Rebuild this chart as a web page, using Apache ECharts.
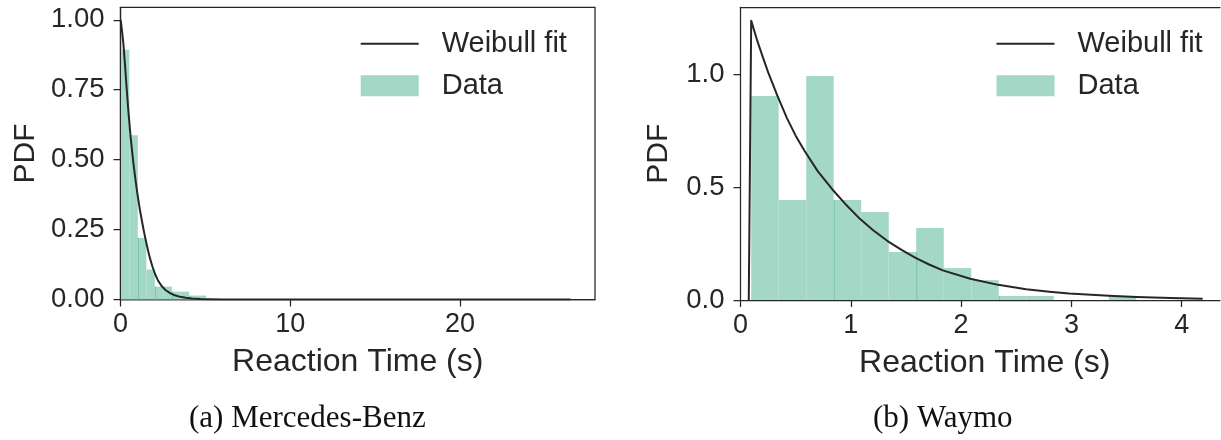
<!DOCTYPE html>
<html>
<head>
<meta charset="utf-8">
<script src="https://cdn.jsdelivr.net/npm/echarts@6/dist/echarts.min.js"></script>
<style>
  html, body { margin: 0; padding: 0; background: #fff; }
  #chart { width: 1221px; height: 440px; }
</style>
</head>
<body>
<div id="chart"></div>
<script>
// ---- (a) Mercedes-Benz: density histogram + Weibull fit ----
const mbBinEdges = [0.03, 0.52, 1.02, 1.52, 2.02, 2.52, 3.03, 3.53, 4.04, 4.54, 5.05];
const mbDensity  = [0.893, 0.587, 0.220, 0.107, 0.046, 0.046, 0.028, 0.028, 0.014, 0.014];
const mbFitX = [0.01, 0.08, 0.17, 0.27, 0.36, 0.46, 0.60, 0.75, 0.90, 1.01, 1.15, 1.30, 1.42, 1.53, 1.64, 1.74, 1.88, 2.03, 2.20, 2.42, 2.65, 2.92, 3.20, 3.51, 3.85, 4.20, 4.70, 5.17, 6.00, 7.00, 26.5];
const mbFitY = [1.000, 0.965, 0.915, 0.835, 0.757, 0.677, 0.578, 0.492, 0.420, 0.372, 0.318, 0.268, 0.231, 0.200, 0.171, 0.147, 0.118, 0.092, 0.069, 0.048, 0.034, 0.023, 0.015, 0.0095, 0.006, 0.0035, 0.0015, 0.0007, 0.0002, 0.0, 0.0];
const mbXTicks = [0, 10, 20];
const mbYTicks = [0, 0.25, 0.5, 0.75, 1.0];

// ---- (b) Waymo: density histogram + Weibull fit ----
const wmBinEdges = [0.097, 0.346, 0.596, 0.845, 1.094, 1.344, 1.593, 1.843, 2.092, 2.341, 2.591, 2.840, 3.090, 3.339, 3.588];
const wmDensity  = [0.903, 0.442, 0.991, 0.442, 0.389, 0.212, 0.319, 0.141, 0.088, 0.018, 0.018, 0.0, 0.0, 0.018];
const wmFitX = [0.075, 0.097, 0.15, 0.20, 0.25, 0.333, 0.42, 0.50, 0.58, 0.70, 0.831, 0.95, 1.085, 1.20, 1.33, 1.46, 1.587, 1.71, 1.834, 2.083, 2.336, 2.59, 2.80, 2.98, 3.34, 3.59, 3.90, 4.19];
const wmFitY = [0.000, 1.236, 1.150, 1.078, 1.008, 0.905, 0.806, 0.727, 0.660, 0.570, 0.490, 0.425, 0.358, 0.310, 0.262, 0.222, 0.186, 0.157, 0.131, 0.094, 0.067, 0.048, 0.037, 0.029, 0.019, 0.0135, 0.0088, 0.0058];
const wmXTicks = [0, 1, 2, 3, 4];
const wmYTicks = [0, 0.5, 1.0];

const captions = ['(a) Mercedes-Benz', '(b) Waymo'];

const INK = '#262626';
const BAR = '#a3d7c6';
const SEAM = '#74c2a6';
const SANS = '"Liberation Sans", Arial, sans-serif';
const SERIF = '"Liberation Serif", "DejaVu Serif", serif';
// thin horizontal stroke inside a full-height box, for the fit-line legend key
const LINE_KEY = 'path://M0,0 M58,21 M0,9.5 L58,9.5 L58,11.5 L0,11.5 Z';

function zip(xs, ys) { return xs.map((x, i) => [x, ys[i]]); }

// Histogram bars as custom rects spanning [left edge, right edge]
function histSeries(edges, dens, idx, seamEvery) {
  const data = dens.map((d, i) => [edges[i], edges[i + 1], d, i, i > 0 ? Math.min(d, dens[i - 1]) : 0]);
  return {
    type: 'custom', name: 'Data', xAxisIndex: idx, yAxisIndex: idx,
    itemStyle: { color: BAR }, z: 2,
    encode: { x: [0, 1], y: 2 },
    data,
    renderItem(params, api) {
      const a = api.coord([api.value(0), 0]);
      const b = api.coord([api.value(1), api.value(2)]);
      const children = [];
      if (api.value(2) > 0) {
        children.push({ type: 'rect', shape: { x: a[0], y: b[1], width: b[0] - a[0], height: a[1] - b[1] },
                        style: { fill: BAR } });
      }
      const k = api.value(3), low = api.value(4);
      if (k > 0 && k % seamEvery === 0 && low > 0) {
        const t = api.coord([api.value(0), low]);
        children.push({ type: 'line', shape: { x1: a[0] + 0.5, y1: a[1], x2: a[0] + 0.5, y2: t[1] },
                        style: { stroke: SEAM, lineWidth: 1 } });
      }
      return { type: 'group', children };
    }
  };
}

function fitSeries(xs, ys, idx) {
  return {
    type: 'line', name: 'Weibull fit', xAxisIndex: idx, yAxisIndex: idx,
    data: zip(xs, ys), symbol: 'none', smooth: false,
    lineStyle: { color: INK, width: 2, join: 'round' }, itemStyle: { color: INK }, z: 3
  };
}

function xAxis(idx, max, ticks, shift) {
  return {
    type: 'value', gridIndex: idx, min: 0, max,
    axisLine: { show: true, lineStyle: { color: INK, width: 1.25 } },
    axisTick: { show: true, length: 7, lineStyle: { color: INK, width: 1.25 }, customValues: ticks },
    axisLabel: { color: INK, fontSize: 27, fontFamily: SANS, margin: 12, customValues: ticks },
    splitLine: { show: false },
    name: 'Reaction Time (s)', nameLocation: 'middle', nameGap: 47,
    nameTextStyle: { color: INK, fontSize: 32, fontFamily: SANS, padding: [0, 0, 0, shift] }
  };
}

// top spine only
function topSpine(idx, max) {
  return {
    type: 'value', gridIndex: idx, position: 'top', min: 0, max,
    axisLine: { show: true, lineStyle: { color: INK, width: 1.25 } },
    axisTick: { show: false }, axisLabel: { show: false }, splitLine: { show: false }
  };
}

function yAxis(idx, max, ticks, digits, gap) {
  return {
    type: 'value', gridIndex: idx, min: 0, max,
    axisLine: { show: true, lineStyle: { color: INK, width: 1.25 } },
    axisTick: { show: true, length: 7, lineStyle: { color: INK, width: 1.25 }, customValues: ticks },
    axisLabel: { color: INK, fontSize: 27.5, fontFamily: SANS, margin: 16, customValues: ticks,
                 formatter: v => v.toFixed(digits) },
    splitLine: { show: false },
    name: 'PDF', nameLocation: 'middle', nameGap: gap, nameRotate: 90,
    nameTextStyle: { color: INK, fontSize: 30, fontFamily: SANS }
  };
}

function legend(left) {
  return {
    orient: 'vertical', left, top: 29.3, padding: 0,
    itemWidth: 58, itemHeight: 21, itemGap: 13,
    data: [
      { name: 'Weibull fit', icon: LINE_KEY, itemStyle: { color: INK, borderWidth: 0 } },
      { name: 'Data', icon: 'rect', itemStyle: { color: BAR, borderWidth: 0 } }
    ],
    textStyle: { color: INK, fontSize: 29, fontFamily: SANS, padding: [0, 0, 0, 18] },
    selectedMode: false
  };
}

const chart = echarts.init(document.getElementById('chart'), null, { renderer: 'canvas' });
chart.setOption({
  animation: false,
  backgroundColor: '#fff',
  grid: [
    { left: 120.5, top: 7.3, width: 474.5, height: 292.2, show: true, borderColor: INK, borderWidth: 1.25, backgroundColor: 'transparent' },
    { left: 740.5, top: 7.3, width: 479.5, height: 292.7, show: false }
  ],
  xAxis: [xAxis(0, 27.95, mbXTicks, 0), xAxis(1, 4.347, wmXTicks, 9), topSpine(1, 4.347)],
  yAxis: [yAxis(0, 1.0446, mbYTicks, 2, 80), yAxis(1, 1.295, wmYTicks, 1, 67)],
  legend: [legend(360.7), legend(996.5)],
  series: [
    histSeries(mbBinEdges, mbDensity, 0, 2),
    fitSeries(mbFitX, mbFitY, 0),
    histSeries(wmBinEdges, wmDensity, 1, 3),
    fitSeries(wmFitX, wmFitY, 1)
  ],
  graphic: [
    { type: 'text', left: 189, top: 403, style: { text: captions[0], fill: '#111', font: '31px ' + SERIF } },
    { type: 'text', left: 873, top: 403, style: { text: captions[1], fill: '#111', font: '31px ' + SERIF } }
  ]
});
</script>
</body>
</html>
